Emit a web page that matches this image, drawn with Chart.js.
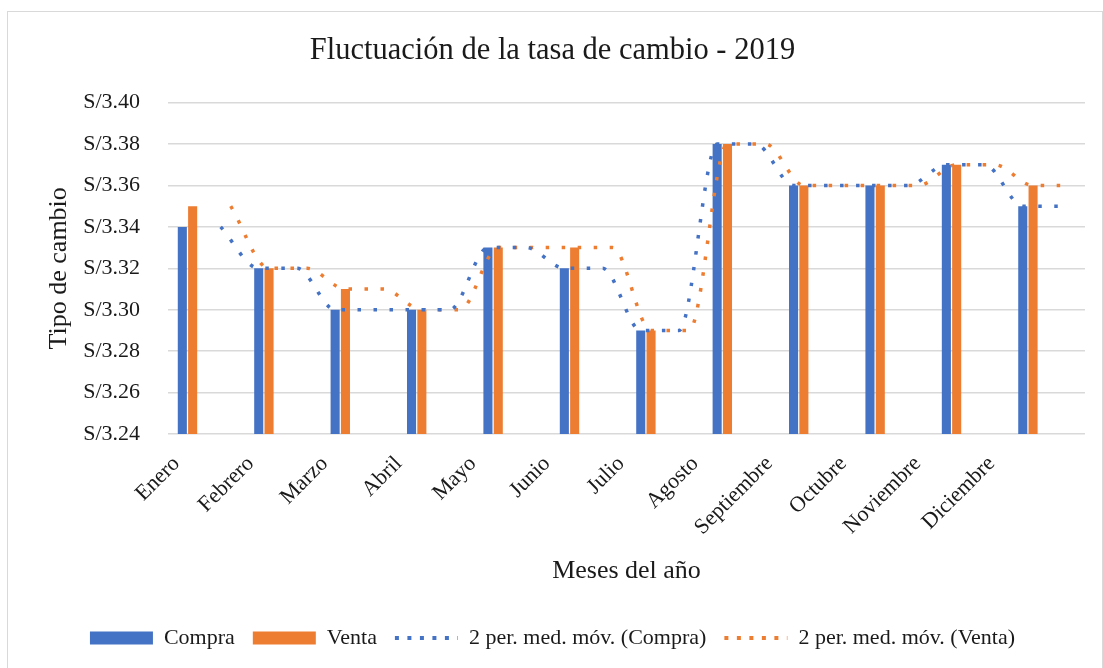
<!DOCTYPE html>
<html>
<head>
<meta charset="utf-8">
<script src="https://cdn.jsdelivr.net/npm/chart.js@4.4.0/dist/chart.umd.min.js"></script>
<style>
  html, body { margin: 0; padding: 0; background: #fff; overflow: hidden; }
  #frame { position: absolute; left: 7px; top: 11px; width: 1094px; height: 700px; border: 1.5px solid #d9d9d9; }
  #wrap { position: absolute; left: 0; top: 0; width: 1103px; height: 668px; }
</style>
</head>
<body>
<div id="frame"></div>
<div id="wrap"><canvas id="myChart"></canvas></div>
<script>
'use strict';
let months = ['Enero', 'Febrero', 'Marzo', 'Abril', 'Mayo', 'Junio', 'Julio', 'Agosto',
  'Septiembre', 'Octubre', 'Noviembre', 'Diciembre'];
let compra = [3.34, 3.32, 3.30, 3.30, 3.33, 3.32, 3.29, 3.38, 3.36, 3.36, 3.37, 3.35];
let venta = [3.35, 3.32, 3.31, 3.30, 3.33, 3.33, 3.29, 3.38, 3.36, 3.36, 3.37, 3.36];
// dotted trend lines, every half month (first slot empty)
let maCompra = [null, 3.34, 3.32, 3.32, 3.30, 3.30, 3.30, 3.30, 3.33, 3.33, 3.32, 3.32,
  3.29, 3.29, 3.38, 3.38, 3.36, 3.36, 3.36, 3.36, 3.37, 3.37, 3.35, 3.35];
let maVenta = [null, 3.35, 3.32, 3.32, 3.31, 3.31, 3.30, 3.30, 3.33, 3.33, 3.33, 3.33,
  3.29, 3.29, 3.38, 3.38, 3.36, 3.36, 3.36, 3.36, 3.37, 3.37, 3.36, 3.36];
let yMin = 3.24;
let yMax = 3.40;
let yStep = 0.02;

let blue = '#4472C4';
let orange = '#ED7D31';
let textColor = '#1a1a1a';
let barShift = 0.066; // each bar sits a little off the month centre

Chart.defaults.font.family = "'Liberation Serif', 'Times New Roman', serif";
Chart.defaults.color = textColor;

function trendPoints(values, shift) {
  let pts = [];
  for (let i = 0; i < values.length; i++) {
    if (values[i] !== null) {
      pts.push({ x: i / 2 + shift, y: values[i] });
    }
  }
  return pts;
}

let ctx = document.getElementById('myChart').getContext('2d');
let myChart = new Chart(ctx, {
  type: 'bar',
  data: {
    datasets: [{
      label: 'Compra',
      data: compra.map((v, i) => ({ x: i, y: v })),
      backgroundColor: blue,
      pointStyle: 'rect',
      categoryPercentage: 0.27,
      barPercentage: 0.88,
      order: 1
    }, {
      label: 'Venta',
      data: venta.map((v, i) => ({ x: i, y: v })),
      backgroundColor: orange,
      pointStyle: 'rect',
      categoryPercentage: 0.27,
      barPercentage: 0.88,
      order: 1
    }, {
      type: 'line',
      label: '2 per. med. móv. (Compra)',
      data: trendPoints(maCompra, -barShift),
      borderColor: blue,
      backgroundColor: blue,
      borderWidth: 3.5,
      borderDash: [3.5, 12.5],
      pointRadius: 0,
      cubicInterpolationMode: 'monotone',
      pointStyle: 'line',
      order: 0
    }, {
      type: 'line',
      label: '2 per. med. móv. (Venta)',
      data: trendPoints(maVenta, barShift),
      borderColor: orange,
      backgroundColor: orange,
      borderWidth: 3.5,
      borderDash: [3.5, 12.5],
      pointRadius: 0,
      cubicInterpolationMode: 'monotone',
      pointStyle: 'line',
      order: 0
    }]
  },
  options: {
    responsive: true,
    maintainAspectRatio: false,
    devicePixelRatio: 1,
    animation: false,
    layout: { padding: { left: 20, right: 18, top: 0, bottom: 9 } },
    plugins: {
      tooltip: { enabled: false },
      title: {
        display: true,
        text: 'Fluctuación de la tasa de cambio - 2019',
        color: textColor,
        font: { size: 30.5, weight: 'normal' },
        padding: { top: 33, bottom: 33 }
      },
      legend: {
        position: 'bottom',
        labels: {
          usePointStyle: true,
          pointStyleWidth: 63,
          boxWidth: 63,
          boxHeight: 13,
          padding: 18,
          color: textColor,
          font: { size: 22 },
          sort: (a, b) => a.datasetIndex - b.datasetIndex,
          generateLabels: function (chart) {
            let items = Chart.defaults.plugins.legend.labels.generateLabels(chart);
            items.forEach(function (it) {
              if (it.pointStyle === 'line') {
                it.lineWidth = 4;
                it.lineDash = [4, 8.5];
                it.lineCap = 'butt';
              } else {
                it.lineWidth = 0;
              }
            });
            return items;
          }
        }
      }
    },
    scales: {
      // value axis for the marks
      x: {
        type: 'linear',
        display: false,
        offset: false,
        min: -0.255,
        max: 11.747,
        grid: { display: false, offset: false }
      },
      // month names sit a bit tighter than the bars, as in the original
      xl: {
        type: 'linear',
        position: 'bottom',
        offset: false,
        min: -0.196,
        max: 12.18,
        grid: { display: false, offset: false },
        border: { display: false },
        afterBuildTicks: function (scale) {
          scale.ticks = months.map((m, i) => ({ value: i }));
        },
        afterFit: function (scale) {
          scale.height = 175;
        },
        ticks: {
          autoSkip: false,
          minRotation: 45,
          maxRotation: 45,
          padding: 9,
          labelOffset: -6,
          font: { size: 22 },
          color: textColor,
          callback: function (value) {
            return months[value];
          }
        },
        title: {
          display: true,
          text: 'Meses del año',
          color: textColor,
          font: { size: 26 },
          padding: { top: 0, bottom: 22 }
        }
      },
      y: {
        min: yMin,
        max: yMax,
        grid: { color: '#d9d9d9', lineWidth: 1.5, drawTicks: false },
        border: { display: false },
        afterFit: function (scale) {
          scale.width = 148;
        },
        ticks: {
          stepSize: yStep,
          padding: 28,
          font: { size: 22 },
          color: textColor,
          callback: function (value) {
            return 'S/' + value.toFixed(2);
          }
        },
        title: {
          display: true,
          text: 'Tipo de cambio',
          color: textColor,
          font: { size: 26 },
          padding: { top: 24, bottom: 0 }
        }
      }
    }
  }
});
</script>
</body>
</html>
